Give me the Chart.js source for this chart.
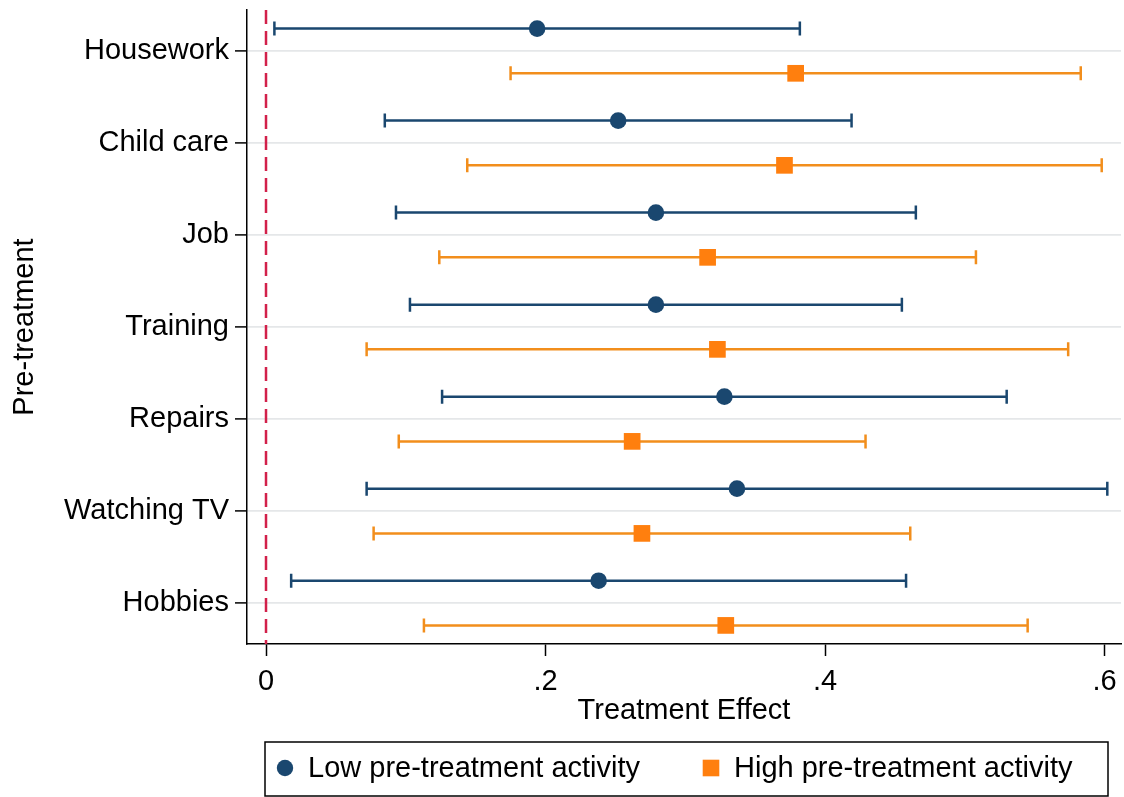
<!DOCTYPE html>
<html>
<head>
<meta charset="utf-8">
<title>Treatment Effect by Pre-treatment Activity</title>
<script src="https://cdn.jsdelivr.net/npm/chart.js@4/dist/chart.umd.min.js"></script>
<style>
  html, body { margin: 0; padding: 0; background: #ffffff; }
  #wrap { width: 1124px; height: 797px; }
</style>
</head>
<body>
<div id="wrap"><canvas id="chart" width="1124" height="797"></canvas></div>
<script>
// Activities (top to bottom)
const categories = ['Housework', 'Child care', 'Job', 'Training', 'Repairs', 'Watching TV', 'Hobbies'];

// Low pre-treatment activity: point estimate and 95% CI
const lowEstimate = [0.194, 0.252, 0.279, 0.279, 0.328, 0.337, 0.238];
const lowLower    = [0.006, 0.085, 0.093, 0.103, 0.126, 0.072, 0.018];
const lowUpper    = [0.382, 0.419, 0.465, 0.455, 0.530, 0.602, 0.458];

// High pre-treatment activity: point estimate and 95% CI
const highEstimate = [0.379, 0.371, 0.316, 0.323, 0.262, 0.269, 0.329];
const highLower    = [0.175, 0.144, 0.124, 0.072, 0.095, 0.077, 0.113];
const highUpper    = [0.583, 0.598, 0.508, 0.574, 0.429, 0.461, 0.545];

// X axis ticks and their labels
const xTickValues = [0, 0.2, 0.4, 0.6];
const xTickLabels = ['0', '.2', '.4', '.6'];

const FONT = '"Liberation Sans", Arial, Helvetica, sans-serif';
const NAVY = '#1a476f';
const ORANGE = '#ff7f0e';
const ORANGE_LINE = '#f28e1c';
const ROW_SHIFT = 0.243; // vertical separation of the two groups within a row

const toPoints = (est, shift) => est.map((v, i) => ({ x: v, y: i + shift }));

// Horizontal CI whiskers with end caps, drawn beneath the markers
const ciPlugin = {
  id: 'ciWhiskers',
  beforeDatasetsDraw(chart) {
    const { ctx, chartArea, scales: { x, y } } = chart;
    ctx.save();
    // reference line at zero
    const x0 = x.getPixelForValue(0);
    ctx.strokeStyle = '#d2204a';
    ctx.lineWidth = 2.5;
    ctx.setLineDash([14, 7]);
    ctx.beginPath();
    ctx.moveTo(x0, chartArea.top);
    ctx.lineTo(x0, chartArea.bottom);
    ctx.stroke();
    ctx.setLineDash([]);

    chart.data.datasets.forEach(ds => {
      ctx.strokeStyle = ds.ciColor;
      ctx.lineWidth = 2.5;
      ds.data.forEach((p, i) => {
        const py = y.getPixelForValue(p.y);
        const xl = x.getPixelForValue(ds.ciLower[i]);
        const xh = x.getPixelForValue(ds.ciUpper[i]);
        ctx.beginPath();
        ctx.moveTo(xl, py); ctx.lineTo(xh, py);
        ctx.moveTo(xl, py - 7); ctx.lineTo(xl, py + 7);
        ctx.moveTo(xh, py - 7); ctx.lineTo(xh, py + 7);
        ctx.stroke();
      });
    });
    ctx.restore();
  }
};

// Boxed legend below the axis title
const boxLegend = {
  id: 'boxLegend',
  afterDraw(chart) {
    const { ctx } = chart;
    const box = { left: 265, top: 742, right: 1108, bottom: 796 };
    const itemX = [285, 711];
    const cy = (box.top + box.bottom) / 2 - 1;
    ctx.save();
    ctx.strokeStyle = '#000';
    ctx.lineWidth = 1.5;
    ctx.strokeRect(box.left, box.top, box.right - box.left, box.bottom - box.top);
    ctx.font = '29px ' + FONT;
    ctx.textBaseline = 'middle';
    ctx.textAlign = 'left';
    chart.data.datasets.forEach((ds, k) => {
      const mx = itemX[k];
      ctx.fillStyle = ds.backgroundColor;
      if (ds.pointStyle === 'rect') {
        ctx.fillRect(mx - 8.3, cy - 8.3, 16.6, 16.6);
      } else {
        ctx.beginPath();
        ctx.arc(mx, cy, 8.2, 0, Math.PI * 2);
        ctx.fill();
      }
      ctx.fillStyle = '#000';
      ctx.fillText(ds.label, mx + 23, cy + 1);
    });
    ctx.restore();
  }
};

new Chart(document.getElementById('chart'), {
  type: 'scatter',
  data: {
    datasets: [
      {
        label: 'Low pre-treatment activity',
        data: toPoints(lowEstimate, -ROW_SHIFT),
        ciLower: lowLower, ciUpper: lowUpper, ciColor: NAVY,
        pointStyle: 'circle', pointRadius: 8.3, pointHoverRadius: 8.3,
        backgroundColor: NAVY, borderWidth: 0
      },
      {
        label: 'High pre-treatment activity',
        data: toPoints(highEstimate, ROW_SHIFT),
        ciLower: highLower, ciUpper: highUpper, ciColor: ORANGE_LINE,
        pointStyle: 'rect', pointRadius: 11.8, pointHoverRadius: 11.8,
        backgroundColor: ORANGE, borderWidth: 0
      }
    ]
  },
  options: {
    responsive: false,
    devicePixelRatio: 1,
    animation: false,
    events: [],
    layout: { autoPadding: false, padding: { left: 0, right: 3, top: 10, bottom: 63 } },
    plugins: { legend: { display: false }, tooltip: { enabled: false } },
    scales: {
      x: {
        type: 'linear', position: 'bottom',
        min: -0.0136, max: 0.6118,
        afterBuildTicks: s => { s.ticks = xTickValues.map(v => ({ value: v })); },
        afterFit: s => { s.height = 90; s.paddingLeft = 0; s.paddingRight = 0; },
        ticks: {
          callback: v => xTickLabels[xTickValues.indexOf(v)],
          font: { size: 29, family: FONT }, color: '#000', padding: 9,
          maxRotation: 0, autoSkip: false
        },
        grid: { drawOnChartArea: false, tickColor: '#000', tickLength: 12, tickWidth: 1.5 },
        border: { color: '#000', width: 1.5 },
        title: {
          display: true, text: 'Treatment Effect', color: '#000',
          font: { size: 29, family: FONT }, padding: { top: 0, bottom: 6 }
        }
      },
      y: {
        type: 'linear', position: 'left', reverse: true,
        min: -0.445, max: 6.445,
        afterBuildTicks: s => { s.ticks = categories.map((_, i) => ({ value: i })); },
        afterFit: s => { s.width = 247; s.paddingTop = 0; s.paddingBottom = 0; },
        ticks: {
          callback: v => categories[v],
          font: { size: 29, family: FONT }, color: '#000', padding: 6, autoSkip: false
        },
        grid: { color: '#e5e7e9', lineWidth: 1.8, tickColor: '#000', tickLength: 12, tickWidth: 1.5 },
        border: { color: '#000', width: 1.5 },
        title: {
          display: true, text: 'Pre-treatment', color: '#000',
          font: { size: 29, family: FONT }, padding: { top: 8, bottom: 0 }
        }
      }
    }
  },
  plugins: [ciPlugin, boxLegend]
});
</script>
</body>
</html>
